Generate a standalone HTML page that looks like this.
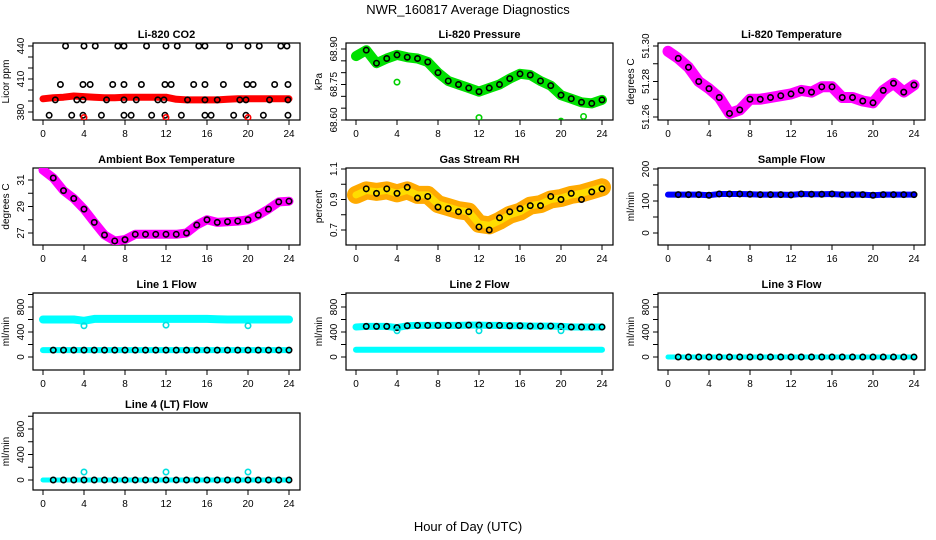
<!DOCTYPE html>
<html><head><meta charset="utf-8"><style>
html,body{margin:0;padding:0;background:#fff}
svg{display:block;font-family:"Liberation Sans",Arial,sans-serif}
</style></head><body>
<svg id="chart" width="936" height="540" viewBox="0 0 936 540" xmlns="http://www.w3.org/2000/svg">
<text x="468" y="14" text-anchor="middle" font-size="13">NWR_160817  Average Diagnostics</text>
<text x="468" y="531" text-anchor="middle" font-size="13">Hour of Day (UTC)</text>
</svg>
<script>
// ---- data ----
const xTicks = [0,4,8,12,16,20,24];
const hours = [0,1,2,3,4,5,6,7,8,9,10,11,12,13,14,15,16,17,18,19,20,21,22,23,24];

const co2Band = [392,393,393.5,394.5,394,393.5,393,393,393.5,393.5,393.5,393.5,393.5,391.5,391,391,391,391,391.5,392,392,392,392,392,392];
const co2HiT = [2.2,4,5.1,7.3,7.9,10.1,12,13.1,15.2,15.8,18.2,20,21.1,23.2,23.8];
const co2MidT = [1.7,3.9,4.6,6.8,7.9,9.6,11.9,12.5,14.7,15.8,17.6,19.9,20.5,22.6,23.9];
const co2LowT = [1.2,3.3,3.9,6.2,7.9,9.1,11.2,11.8,14.1,15.8,17,19.2,19.8,22.1,23.9];
const co2BotT = [0.6,2.8,3.9,5.7,7.9,8.6,10.6,11.9,13.5,15.8,16.4,18.6,19.8,21.5,23.9];
const co2Levels = [440,405,391,377];
const co2OutT = [4,12,20];
const co2OutV = [375,375,375];

const pressBand = [68.87,68.895,68.84,68.86,68.875,68.865,68.86,68.845,68.80,68.765,68.75,68.735,68.72,68.735,68.75,68.775,68.795,68.79,68.765,68.745,68.705,68.69,68.675,68.67,68.685];
const pressOutT = [4,12,20,22.2];
const pressOutV = [68.76,68.61,68.595,68.615];

const tempBand = [51.297,51.293,51.288,51.280,51.276,51.271,51.262,51.264,51.270,51.270,51.271,51.272,51.273,51.275,51.274,51.277,51.277,51.271,51.271,51.269,51.268,51.275,51.279,51.274,51.278];

const ambBand = [31.75,31.15,30.2,29.6,28.8,27.8,26.85,26.4,26.5,26.9,26.9,26.9,26.9,26.9,27.0,27.6,28.0,27.8,27.85,27.9,28.0,28.35,28.8,29.35,29.4];

const rhBand = [0.93,0.96,0.95,0.96,0.94,0.96,0.93,0.93,0.87,0.85,0.83,0.82,0.74,0.73,0.76,0.80,0.82,0.86,0.87,0.90,0.91,0.93,0.94,0.96,0.98];
const rhAvg = [0.92,0.97,0.94,0.97,0.94,0.98,0.91,0.92,0.85,0.84,0.82,0.82,0.72,0.70,0.78,0.82,0.84,0.86,0.86,0.92,0.90,0.94,0.90,0.95,0.97];

const sampleFlow = [120,120,120,120,118,122,122,122,121,120,120,120,119,122,121,121,122,120,120,120,118,120,120,120,120];

const line1High = [600,600,600,600,580,610,610,610,610,610,610,610,610,610,610,610,610,605,600,600,600,600,600,600,600];
const line1Low = [110,110,110,110,110,110,110,110,110,110,110,110,110,110,110,110,110,110,110,110,110,110,110,110,110];
const line1OutT = [4,12,20];
const line1OutV = [500,510,500];

const line2High = [480,490,490,490,470,500,505,505,505,505,505,510,510,505,505,500,500,495,495,495,490,480,480,480,480];
const line2Low = [115,115,115,115,115,115,115,115,115,115,115,115,115,115,115,115,115,115,115,115,115,115,115,115,115];
const line2OutT = [4,12,20];
const line2OutV = [420,420,420];

const line3Flow = [0,0,0,0,0,0,0,0,0,0,0,0,0,0,0,0,0,0,0,0,0,0,0,0,0];
const line4Flow = [0,0,0,0,0,0,0,0,0,0,0,0,0,0,0,0,0,0,0,0,0,0,0,0,0];
const line4OutT = [4,12,20];
const line4OutV = [125,125,125];

// ---- layout ----
const NS = "http://www.w3.org/2000/svg";
const svg = document.getElementById('chart');
const colLeft = [33,346,658];
const rowTop = [43,168,293,413];
const W = 267, H = 77;

function mk(tag, attrs, parent){
  const e = document.createElementNS(NS, tag);
  for (const k in attrs) e.setAttribute(k, attrs[k]);
  (parent||svg).appendChild(e);
  return e;
}

function panel(col,row,title,ylab,v1,p1,v2,p2,ticks,labels){
  const L = colLeft[col], T = rowTop[row];
  const g = mk('g',{});
  
  
  const x = t => L + 10 + t*(246/24);
  const bottom = T + H;
  const y = v => p1 + (v - v1)*(p2 - p1)/(v2 - v1);
  const box = mk('rect',{x:L,y:T,width:W,height:H,fill:'none',stroke:'#000','stroke-width':1.2},g);
  
  
  const tt = mk('text',{x:L+W/2,y:T-5,'text-anchor':'middle','font-size':11,'font-weight':'bold'},g);
  tt.textContent = title;
  
  
  xTicks.forEach(t=>{
    mk('line',{x1:x(t),x2:x(t),y1:bottom,y2:bottom+5,stroke:'#000'},g);
    const tl = mk('text',{x:x(t),y:bottom+17,'text-anchor':'middle','font-size':10},g);
    tl.textContent = t;
    
    
  });
  ticks.forEach(v=>{
    const py = y(v);
    mk('line',{x1:L,x2:L-5,y1:py,y2:py,stroke:'#000'},g);
  });
  labels.forEach(v=>{
    const py = y(v);
    const tl = mk('text',{x:0,y:0,'text-anchor':'middle','font-size':10,transform:`translate(${L-9},${py}) rotate(-90)`},g);
    tl.textContent = v;
    
    
  });
  const yl = mk('text',{x:0,y:0,'text-anchor':'middle','font-size':10,transform:`translate(${L-24},${T+H/2}) rotate(-90)`},g);
  yl.textContent = ylab;
  
  
  const clip = 'c'+col+row;
  const cp = mk('clipPath',{id:clip},g);
  mk('rect',{x:L,y:T,width:W,height:H},cp);
  const inner = mk('g',{'clip-path':`url(#${clip})`},g);
  return {x,y,g:inner};
}

function band(p, vals, color, w, name){
  const d = vals.map((v,i)=>(i?'L':'M')+p.x(hours[i]).toFixed(1)+','+p.y(v).toFixed(1)).join(' ');
  const e = mk('path',{d,fill:'none',stroke:color,'stroke-width':w,'stroke-linejoin':'round','stroke-linecap':'round'},p.g);
  
  
}
function pts(p, ts, vs, color, name, r){
  ts.forEach((t,i)=>{
    const c = mk('circle',{cx:p.x(t),cy:p.y(vs[i]),r:r||2.7,fill:'none',stroke:color,'stroke-width':1.6},p.g);
    
    
  });
}
function halfPts(p, vals, color, name){
  const ts=[], vs=[];
  vals.forEach((v,i)=>{ ts.push(hours[i]); vs.push(v); });
  pts(p, ts.slice(1), vs.slice(1), color, name);
}

let p = panel(0,0,'Li-820 CO2','Licor ppm',440,46,380,112,[380,390,400,410,420,430,440],[380,410,440]);
band(p, co2Band, '#ff0000', 7, 'co2-band');
pts(p, co2HiT, co2HiT.map(()=>co2Levels[0]), '#000', 'co2-avg-point');
pts(p, co2MidT, co2MidT.map(()=>co2Levels[1]), '#000', 'co2-avg-point');
pts(p, co2LowT, co2LowT.map(()=>co2Levels[2]), '#000', 'co2-avg-point');
pts(p, co2BotT, co2BotT.map(()=>co2Levels[3]), '#000', 'co2-avg-point');
pts(p, co2OutT, co2OutV, '#ff0000', 'co2-outlier');

p = panel(1,0,'Li-820 Pressure','kPa',68.90,49,68.60,120,[68.60,68.65,68.70,68.75,68.80,68.85,68.90],['68.60','68.75','68.90']);
band(p, pressBand, '#00e000', 10, 'pressure-band');
halfPts(p, pressBand, '#000', 'pressure-avg-point');
pts(p, pressOutT, pressOutV, '#00d000', 'pressure-outlier');

p = panel(2,0,'Li-820 Temperature','degrees C',51.30,46,51.26,117,[51.26,51.27,51.28,51.29,51.30],['51.26','51.28','51.30']);
band(p, tempBand, '#ff00ff', 11, 'temperature-band');
halfPts(p, tempBand, '#000', 'temperature-avg-point');

p = panel(0,1,'Ambient Box Temperature','degrees C',31,180,27,233,[27,28,29,30,31],[27,29,31]);
band(p, ambBand, '#ff00ff', 9, 'ambient-band');
halfPts(p, ambBand, '#000', 'ambient-avg-point');

p = panel(1,1,'Gas Stream RH','percent',1.1,169,0.7,230,[0.7,0.8,0.9,1.0,1.1],['0.7','0.9','1.1']);
band(p, rhBand, '#ffaa00', 18, 'rh-band');
band(p, rhBand, '#ffdd00', 7, 'rh-band-core');
halfPts(p, rhAvg, '#000', 'rh-avg-point');

p = panel(2,1,'Sample Flow','ml/min',200,169,0,233,[0,50,100,150,200],[0,100,200]);
band(p, sampleFlow, '#0000ff', 6, 'sample-flow-band');
halfPts(p, sampleFlow, '#000', 'sample-flow-avg-point');

p = panel(0,2,'Line 1 Flow','ml/min',0,357,800,307,[0,200,400,600,800,1000],[0,400,800]);
band(p, line1High, '#00ffff', 8, 'line1-high-band');
band(p, line1Low, '#00ffff', 6, 'line1-low-band');
halfPts(p, line1Low, '#000', 'line1-avg-point');
pts(p, line1OutT, line1OutV, '#00e0e0', 'line1-outlier');

p = panel(1,2,'Line 2 Flow','ml/min',0,357,800,307,[0,200,400,600,800,1000],[0,400,800]);
band(p, line2High, '#00ffff', 7, 'line2-high-band');
band(p, line2Low, '#00ffff', 6, 'line2-low-band');
halfPts(p, line2High, '#000', 'line2-avg-point');
pts(p, line2OutT, line2OutV, '#00e0e0', 'line2-outlier');

p = panel(2,2,'Line 3 Flow','ml/min',0,357,800,307,[0,200,400,600,800,1000],[0,400,800]);
band(p, line3Flow, '#00ffff', 5, 'line3-band');
halfPts(p, line3Flow, '#000', 'line3-avg-point');

p = panel(0,3,'Line 4 (LT) Flow','ml/min',0,480,800,429,[0,200,400,600,800,1000],[0,400,800]);
band(p, line4Flow, '#00ffff', 5, 'line4-band');
halfPts(p, line4Flow, '#000', 'line4-avg-point');
pts(p, line4OutT, line4OutV, '#00e0e0', 'line4-outlier');
</script>
</body></html>
